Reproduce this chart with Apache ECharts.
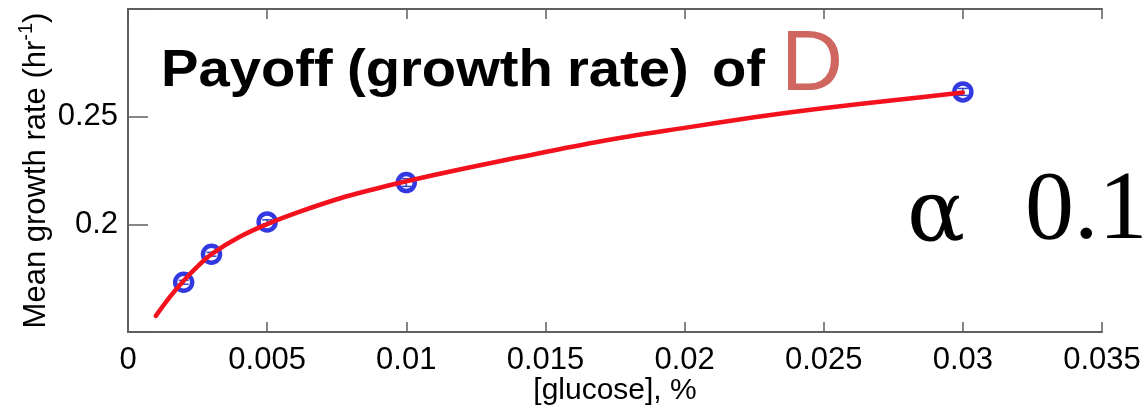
<!DOCTYPE html>
<html>
<head>
<meta charset="utf-8">
<script src="https://cdn.jsdelivr.net/npm/echarts@6/dist/echarts.min.js"></script>
<style>
  html, body { margin: 0; padding: 0; background: #fff; }
  #chart { width: 1145px; height: 411px; }
</style>
</head>
<body>
<div id="chart"></div>
<script>
// Measured mean growth rates at each glucose concentration, with their error half-widths
const glucose = [0.002, 0.003, 0.005, 0.01, 0.03];
const growthRate = [0.1731, 0.1861, 0.2011, 0.2194, 0.2615];
const rateError = [0.0009, 0.0009, 0.0010, 0.0018, 0.0016];

// Fitted curve, sampled along its length
const fitGlucose = [0.001, 0.0015, 0.002, 0.0025, 0.003, 0.004, 0.005, 0.0062, 0.0076, 0.0088, 0.01, 0.012, 0.014, 0.017, 0.02, 0.0225, 0.0246, 0.0275, 0.03];
const fitRate    = [0.1575, 0.1662, 0.1738, 0.1805, 0.1862, 0.1941, 0.2001, 0.2060, 0.2120, 0.2162, 0.2200, 0.2257, 0.2310, 0.2386, 0.2448, 0.2497, 0.2533, 0.2576, 0.2612];

// Axis ranges and tick spacing
const xRange = [0, 0.035], xStep = 0.005;
const yRange = [0.15, 0.30], yStep = 0.05;

// Heading, set word by word
const titleWords = ['Payoff', '(growth', 'rate)', 'of'];
const titleWordX = [161, 347, 567, 712];
const playerText = 'D';
const alphaSymbol = 'α';
const alphaValue = '0.1';

const pairs = (xs, ys) => xs.map((x, i) => [x, ys[i]]);

const axisGray = '#5f5f5f';
const sans = '"Liberation Sans", Arial, sans-serif';
const serif = '"Liberation Serif", "Times New Roman", serif';
const TICK_LEN = 10;

const noTick = () => ({ show: false });
const drawnLine = () => ({ show: true, lineStyle: { color: axisGray, width: 2 } });

// Tick-only axes sit TICK_LEN inside the box; their outward ticks reach back to the frame,
// so the frame carries inward-pointing ticks on all four sides.
const tickAxis = (extra) => Object.assign({
  type: 'value', offset: -TICK_LEN,
  axisLine: { show: false }, axisLabel: { show: false }, splitLine: { show: false },
  axisTick: { show: true, inside: false, length: TICK_LEN, lineStyle: { color: axisGray, width: 1.5 } }
}, extra);

const textShadow = (a) => ({ shadowColor: 'rgba(0,0,0,' + a + ')', shadowBlur: 4, shadowOffsetX: 3, shadowOffsetY: 3 });

const headingTexts = titleWords.map((w, i) => ({
  type: 'text', x: titleWordX[i], y: 46, scaleX: 1.08, z: 10,
  style: Object.assign({ x: 0, y: 0, text: w, fill: '#000', font: 'bold 52px ' + sans, align: 'left', verticalAlign: 'top' }, textShadow(0.45))
}));

// Vertical error bar with short caps
function renderErrorBar(params, api) {
  const x = api.value(0), y = api.value(1), e = api.value(2);
  const lo = api.coord([x, y - e]);
  const hi = api.coord([x, y + e]);
  const half = 5;
  const style = { stroke: '#3346c8', lineWidth: 1.5, fill: null };
  return {
    type: 'group',
    children: [
      { type: 'line', shape: { x1: lo[0], y1: lo[1], x2: hi[0], y2: hi[1] }, style },
      { type: 'line', shape: { x1: lo[0] - half, y1: lo[1], x2: lo[0] + half, y2: lo[1] }, style },
      { type: 'line', shape: { x1: hi[0] - half, y1: hi[1], x2: hi[0] + half, y2: hi[1] }, style }
    ]
  };
}

const chart = echarts.init(document.getElementById('chart'), null, { renderer: 'canvas' });

chart.setOption({
  animation: false,
  backgroundColor: '#ffffff',
  grid: { left: 128, right: 43, top: 9, bottom: 77, containLabel: false },
  xAxis: [
    {
      type: 'value', position: 'bottom',
      min: xRange[0], max: xRange[1], interval: xStep,
      axisLine: drawnLine(), axisTick: noTick(), splitLine: { show: false },
      axisLabel: { color: '#000', fontFamily: sans, fontSize: 31, margin: 13 },
      name: '[glucose], %', nameLocation: 'middle', nameGap: 44, nameMoveOverlap: false,
      nameTextStyle: { color: '#000', fontFamily: sans, fontSize: 30 }
    },
    {
      type: 'value', position: 'top',
      min: xRange[0], max: xRange[1], interval: xStep,
      axisLine: drawnLine(), axisTick: noTick(), axisLabel: { show: false }, splitLine: { show: false }
    },
    tickAxis({ position: 'bottom', min: xRange[0], max: xRange[1], interval: xStep }),
    tickAxis({ position: 'top', min: xRange[0], max: xRange[1], interval: xStep })
  ],
  yAxis: [
    {
      type: 'value', position: 'left',
      min: yRange[0], max: yRange[1], interval: yStep,
      axisLine: drawnLine(), axisTick: noTick(), splitLine: { show: false },
      axisLabel: { color: '#000', fontFamily: sans, fontSize: 31, margin: 10, showMinLabel: false, showMaxLabel: false },
      name: 'Mean growth rate (hr{sup|-1})', nameLocation: 'middle', nameRotate: 90, nameGap: 72, nameMoveOverlap: false,
      nameTextStyle: {
        color: '#000', fontFamily: sans, fontSize: 31, lineHeight: 40, verticalAlign: 'bottom',
        rich: { sup: { fontSize: 20, lineHeight: 20, verticalAlign: 'top', fontFamily: sans, color: '#000' } }
      }
    },
    {
      type: 'value', position: 'right',
      min: yRange[0], max: yRange[1], interval: yStep,
      axisLine: drawnLine(), axisTick: noTick(), axisLabel: { show: false }, splitLine: { show: false }
    },
    tickAxis({ position: 'left', min: yRange[0], max: yRange[1], interval: yStep }),
    tickAxis({ position: 'right', min: yRange[0], max: yRange[1], interval: yStep })
  ],
  series: [
    {
      name: 'error', type: 'custom', xAxisIndex: 0, yAxisIndex: 0, z: 1,
      data: glucose.map((x, i) => [x, growthRate[i], rateError[i]]),
      renderItem: renderErrorBar
    },
    {
      name: 'measured', type: 'scatter', xAxisIndex: 0, yAxisIndex: 0,
      data: pairs(glucose, growthRate),
      symbol: 'circle', symbolSize: 17, z: 2,
      itemStyle: { color: 'rgba(0,0,0,0)', borderColor: '#0008d8', borderWidth: 4.5 }
    },
    {
      name: 'fit', type: 'line', xAxisIndex: 0, yAxisIndex: 0,
      data: pairs(fitGlucose, fitRate),
      smooth: 0.3, showSymbol: false, symbol: 'none', z: 3,
      lineStyle: { color: '#f2111c', width: 4.5, cap: 'round' }
    }
  ],
  graphic: headingTexts.concat([
    {
      type: 'text', left: 781, top: 23, z: 10,
      style: Object.assign({ text: playerText, fill: '#cf6660', font: '86px ' + sans }, textShadow(0.3))
    },
    {
      type: 'text', left: 907, top: 176, z: 10,
      style: Object.assign({ text: alphaSymbol, fill: '#000', font: '86px "DejaVu Serif", ' + serif }, textShadow(0.4))
    },
    {
      type: 'text', left: 1025, top: 163, z: 10,
      style: Object.assign({ text: alphaValue, fill: '#000', font: '98px ' + serif }, textShadow(0.4))
    }
  ])
});
</script>
</body>
</html>
